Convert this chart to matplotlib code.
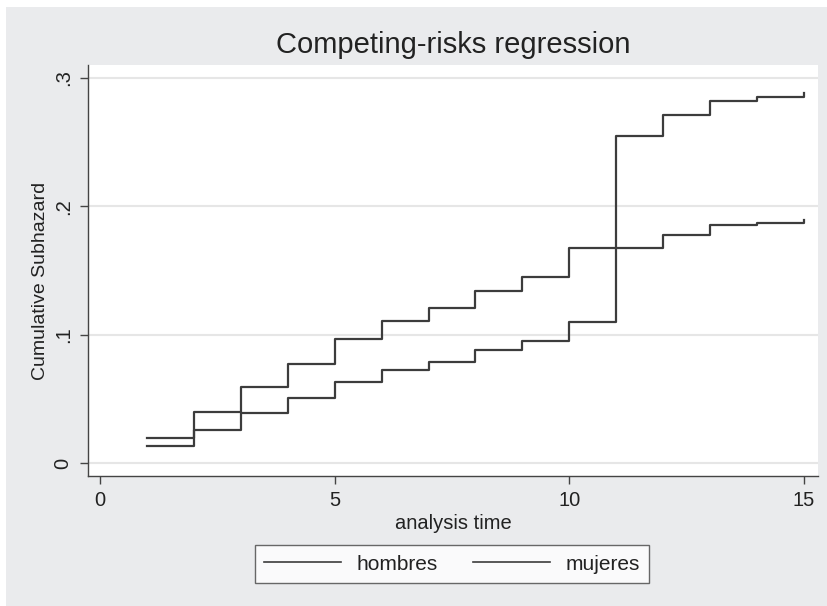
import matplotlib
matplotlib.use("Agg")
import matplotlib.pyplot as plt
from matplotlib.patches import Rectangle
from matplotlib.lines import Line2D

plt.rcParams['font.family'] = ['Liberation Sans', 'DejaVu Sans']

time = [1, 2, 3, 4, 5, 6, 7, 8, 9, 10, 11, 12, 13, 14, 15]
hombres = [0.0132, 0.0257, 0.0387, 0.0504, 0.0631, 0.0725, 0.0790, 0.0881, 0.0953,
           0.1100, 0.2549, 0.2712, 0.2822, 0.2855, 0.2881]
mujeres = [0.0197, 0.0395, 0.0590, 0.0770, 0.0964, 0.1107, 0.1206, 0.1343, 0.1452,
           0.1676, 0.1676, 0.1780, 0.1855, 0.1873, 0.1894]
yticks = [0, 0.1, 0.2, 0.3]
yticklabels = ['0', '.1', '.2', '.3']
xticks = [0, 5, 10, 15]

W, H = 828, 606
fig = plt.figure(figsize=(W / 100, H / 100), dpi=100, facecolor='white')
bg = '#eaebed'
fig.patches.append(Rectangle((6 / W, 0), 1 - 6 / W, 1 - 7 / H, transform=fig.transFigure,
                             facecolor=bg, edgecolor='none', zorder=-10))

ax = fig.add_axes([88 / W, 1 - 476 / H, (818 - 88) / W, (476 - 65) / H])
ax.set_facecolor('white')
line_color = '#3c3c3c'
ax.plot(time, hombres, drawstyle='steps-post', color=line_color, lw=1.6, label='hombres')
ax.plot(time, mujeres, drawstyle='steps-post', color=line_color, lw=1.6, label='mujeres')

ax.set_xlim(-0.256, 15.30)
ax.set_ylim(-0.0101, 0.3101)
for y in yticks:
    ax.axhline(y, color='#e6e6e6', lw=1.5, zorder=0)

ax.set_yticks(yticks)
ax.set_yticklabels(yticklabels, rotation=90, va='center')
ax.set_xticks(xticks)
ax.tick_params(axis='both', direction='out', length=6, width=1, color='#444444',
               labelsize=14.5, labelcolor='#222222', pad=5)
for s in ['top', 'right']:
    ax.spines[s].set_visible(False)
for s in ['left', 'bottom']:
    ax.spines[s].set_color('#444444')
    ax.spines[s].set_linewidth(1.0)

ax.set_xlabel('analysis time', fontsize=14.5, color='#222222', labelpad=3)
ax.set_ylabel('Cumulative Subhazard', fontsize=14, color='#222222')
ax.yaxis.set_label_coords(-0.054, 0.475)
fig.text(0.5 * (88 + 818) / W, 1 - 45 / H, 'Competing-risks regression', fontsize=21,
         ha='center', va='center', color='#222222')

handles = [Line2D([0], [0], color=line_color, lw=1.2),
           Line2D([0], [0], color=line_color, lw=1.2)]
leg = fig.legend(handles, ['hombres', 'mujeres'], loc='center',
                 bbox_to_anchor=(452 / W, 1 - 564 / H), ncol=2, fontsize=15,
                 frameon=True, fancybox=False, handlelength=3.7, handletextpad=0.72,
                 columnspacing=1.7, borderpad=0.45, borderaxespad=0)
leg.get_frame().set_edgecolor('#444444')
leg.get_frame().set_linewidth(1.0)
for t in leg.get_texts():
    t.set_color('#222222')

fig.savefig('out.png', dpi=100, facecolor='white')
